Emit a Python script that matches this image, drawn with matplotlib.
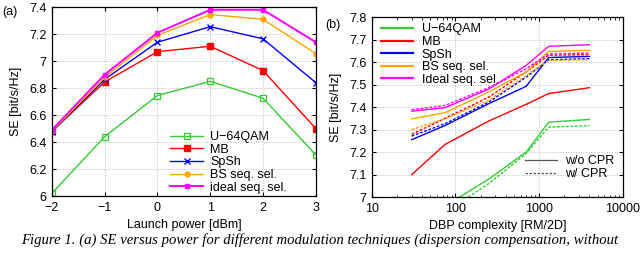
import numpy as np
import matplotlib
matplotlib.use("Agg")
import matplotlib.pyplot as plt
from matplotlib.lines import Line2D
from matplotlib.ticker import FixedLocator, LogLocator, NullFormatter

plt.rcParams['font.family'] = ['Liberation Sans', 'DejaVu Sans']

# (a) SE vs potencia
potencia = [-2, -1, 0, 1, 2, 3]
se_u64 = [6.02, 6.44, 6.745, 6.85, 6.725, 6.305]
se_mb = [6.48, 6.845, 7.07, 7.11, 6.93, 6.50]
se_spsh = [6.475, 6.865, 7.14, 7.255, 7.165, 6.84]
se_bs = [6.48, 6.88, 7.19, 7.345, 7.31, 7.055]
se_ideal = [6.49, 6.90, 7.21, 7.38, 7.38, 7.14]

# (b) SE vs complejidad DBP
dbp = [30, 75, 250, 700, 1300, 4000]
u64_sin = [6.80, 6.96, 7.08, 7.20, 7.333, 7.345]
u64_con = [6.78, 6.93, 7.06, 7.193, 7.311, 7.317]
mb_sin = [7.10, 7.234, 7.338, 7.412, 7.46, 7.486]
mb_con = [7.279, 7.35, 7.444, 7.556, 7.63, 7.633]
spsh_sin = [7.255, 7.318, 7.415, 7.492, 7.62, 7.625]
spsh_con = [7.271, 7.326, 7.422, 7.533, 7.61, 7.615]
bs_sin = [7.348, 7.375, 7.467, 7.556, 7.647, 7.652]
bs_con = [7.30, 7.348, 7.43, 7.54, 7.607, 7.61]
ideal_sin = [7.382, 7.397, 7.48, 7.585, 7.67, 7.677]
ideal_con = [7.388, 7.407, 7.486, 7.57, 7.636, 7.64]

verde = '#33cc33'
rojo = '#ff0000'
azul = '#0000ff'
naranja = '#ffa500'
magenta = '#ff00ff'

fs = 9

fig = plt.figure(figsize=(6.4, 2.54), dpi=100)
ax1 = fig.add_axes([0.081, 0.228, 0.4125, 0.744])
ax2 = fig.add_axes([0.581, 0.224, 0.392, 0.709])

for ax in (ax1, ax2):
    ax.grid(True, color='#bbbbbb', linestyle=':', linewidth=0.7)
    ax.tick_params(direction='in', labelsize=fs, top=True, right=True,
                   length=3, pad=4)
    for s in ax.spines.values():
        s.set_linewidth(0.9)

# ---- (a)
ax1.plot(potencia, se_u64, color=verde, lw=1, marker='s', mfc='none', ms=4, mew=0.9, label='U\u221264QAM')
ax1.plot(potencia, se_mb, color=rojo, lw=1, marker='s', ms=4, label='MB')
ax1.plot(potencia, se_spsh, color=azul, lw=1, marker='x', ms=4, mew=1, label='SpSh')
ax1.plot(potencia, se_bs, color=naranja, lw=1, marker='o', ms=3.5, label='BS seq. sel.')
ax1.plot(potencia, se_ideal, color=magenta, lw=1.4, marker='s', ms=3.5, label='ideal seq. sel.')
ax1.set_xlim(-2, 3)
ax1.set_ylim(6, 7.4)
ax1.set_xticks(potencia)
ax1.set_xticklabels(['\u22122', '\u22121', '0', '1', '2', '3'])
ax1.set_yticks([6, 6.2, 6.4, 6.6, 6.8, 7, 7.2, 7.4])
ax1.set_yticklabels(['6', '6.2', '6.4', '6.6', '6.8', '7', '7.2', '7.4'])
ax1.set_xlabel('Launch power [dBm]', fontsize=fs, labelpad=4)
ax1.set_ylabel('SE [bit/s/Hz]', fontsize=fs, labelpad=5)
ax1.legend(loc='lower right', frameon=False, fontsize=fs, handlelength=2.6,
           labelspacing=0.05, borderaxespad=0.1, handletextpad=0.6,
           bbox_to_anchor=(0.915, -0.02))

# ---- (b)
series = [(u64_sin, u64_con, verde, 'U\u221264QAM'),
          (mb_sin, mb_con, rojo, 'MB'),
          (spsh_sin, spsh_con, azul, 'SpSh'),
          (bs_sin, bs_con, naranja, 'BS seq. sel.'),
          (ideal_sin, ideal_con, magenta, 'Ideal seq. sel.')]
handles = []
for sin, con, c, nombre in series:
    ax2.plot(dbp, sin, color=c, lw=1)
    ax2.plot(dbp, con, color=c, lw=1, ls=(0, (2, 1.2)))
    handles.append(Line2D([], [], color=c, lw=1.6, label=nombre))
ax2.set_xscale('log')
ax2.set_xlim(10, 10000)
ax2.set_ylim(7, 7.8)
ax2.xaxis.set_major_locator(FixedLocator([10, 100, 1000, 10000]))
ax2.set_xticklabels(['10', '100', '1000', '10000'])
ax2.xaxis.set_minor_locator(LogLocator(base=10, subs=np.arange(2, 10)))
ax2.xaxis.set_minor_formatter(NullFormatter())
ax2.tick_params(which='minor', direction='in', length=1.8, top=True)
ax2.set_yticks([7, 7.1, 7.2, 7.3, 7.4, 7.5, 7.6, 7.7, 7.8])
ax2.set_yticklabels(['7', '7.1', '7.2', '7.3', '7.4', '7.5', '7.6', '7.7', '7.8'])
ax2.set_xlabel('DBP complexity [RM/2D]', fontsize=fs, labelpad=4)
ax2.set_ylabel('SE [bit/s/Hz]', fontsize=fs, labelpad=5)
leg1 = ax2.legend(handles=handles, loc='upper left', frameon=False, fontsize=fs,
                  handlelength=2.6, labelspacing=0.05, borderaxespad=0.1,
                  handletextpad=0.7, bbox_to_anchor=(0.01, 1.0))
ax2.add_artist(leg1)
cpr = [Line2D([], [], color='#555555', lw=0.9, label='w/o CPR'),
       Line2D([], [], color='#555555', lw=0.9, ls=(0, (2, 1.2)), label='w/ CPR')]
ax2.legend(handles=cpr, loc='lower right', frameon=False, fontsize=fs,
           handlelength=2.6, labelspacing=0.05, borderaxespad=0.1,
           handletextpad=0.6, bbox_to_anchor=(0.99, 0.06))

fig.text(0.003, 0.975, '(a)', fontsize=fs, va='top')
fig.text(0.508, 0.925, '(b)', fontsize=fs, va='top')
fig.text(0.5, 0.055, 'Figure 1. (a) SE versus power for different modulation techniques (dispersion compensation, without',
         ha='center', va='center', fontsize=10.6, style='italic',
         family=['Liberation Serif', 'DejaVu Serif'])

plt.savefig('out.png', dpi=100)
